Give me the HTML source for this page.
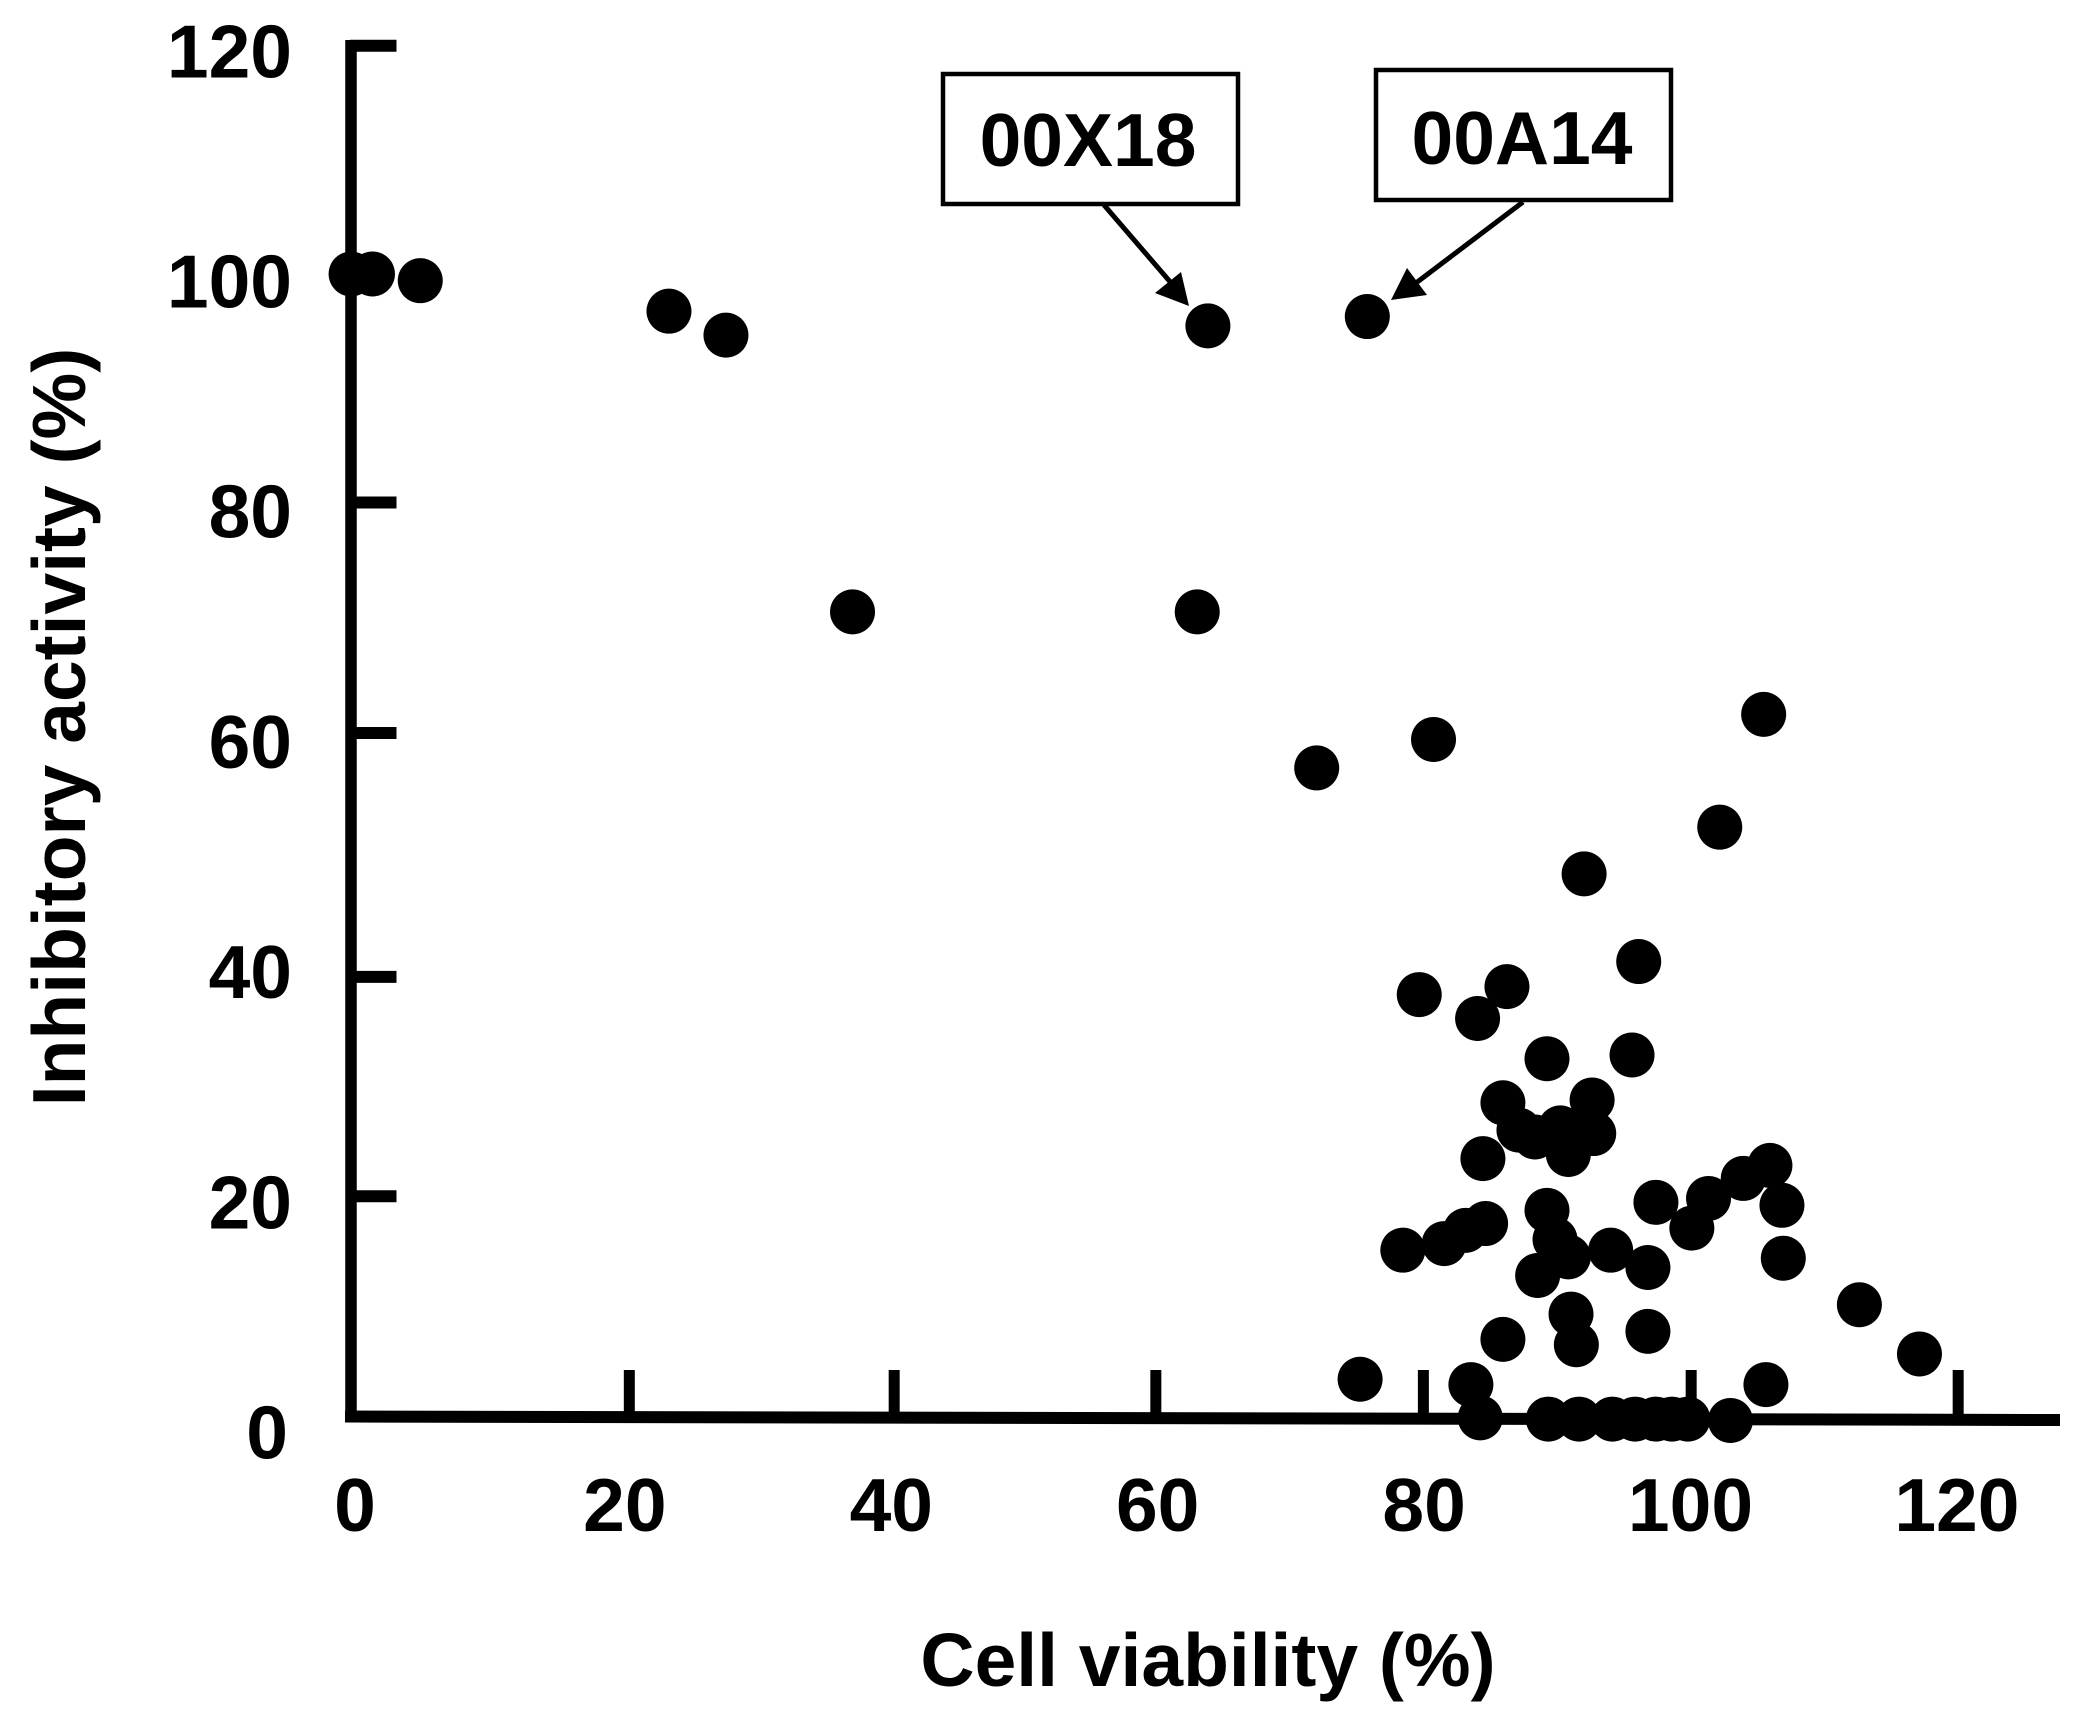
<!DOCTYPE html>
<html>
<head>
<meta charset="utf-8">
<title>Inhibitory activity vs cell viability</title>
<style>
html,body{margin:0;padding:0;background:#fff;}
svg{display:block;}
text{font-family:"Liberation Sans",Arial,sans-serif;font-weight:bold;fill:#000;}
</style>
</head>
<body>
<svg id="chart" xmlns="http://www.w3.org/2000/svg" width="2086" height="1728" viewBox="0 0 2086 1728">
  <rect x="0" y="0" width="2086" height="1728" fill="#fff"/>
  <g id="axes"></g>
  <g id="points"></g>
  <text x="1208" y="1686" font-size="75" text-anchor="middle">Cell viability (%)</text>
  <text transform="translate(85,727) rotate(-90)" font-size="75" text-anchor="middle">Inhibitory activity (%)</text>
  <g>
    <rect x="943" y="74" width="295" height="130" fill="#fff" stroke="#000" stroke-width="4.5"/>
    <text x="1088" y="166" font-size="75" text-anchor="middle">00X18</text>
    <line x1="1104" y1="205" x2="1172" y2="284" stroke="#000" stroke-width="5"/>
    <polygon points="1181,272 1155,293 1189,306" fill="#000"/>
  </g>
  <g>
    <rect x="1376" y="70" width="295" height="130" fill="#fff" stroke="#000" stroke-width="4.5"/>
    <text x="1522" y="164" font-size="75" text-anchor="middle">00A14</text>
    <line x1="1523" y1="202" x2="1412" y2="286" stroke="#000" stroke-width="5"/>
    <polygon points="1407,268 1427,295 1391,300" fill="#000"/>
  </g>
</svg>
<script>
// Tick labels
const xTickLabels = [0, 20, 40, 60, 80, 100, 120];
const yTickLabels = [0, 20, 40, 60, 80, 100, 120];
// Tick marks as drawn on the source figure (the hand-set axis is slightly uneven)
const xTickMarks = [20.96, 40.8, 60.4, 80.44, 100.5, 120.5];
const yTickMarks = [19.0, 38.25, 59.67, 79.9, 120];
// Series values
const cellViability = [0.12,1.72,5.3,23.93,28.2,37.68,63.5,64.3,76.24,72.45,81.2,105.93,102.64,92.48,96.57,80.13,86.7,84.5,89.7,96.07,86.4,93.08,87.6,88.8,90.7,93.2,91.3,84.9,106.4,104.4,101.8,100.55,97.86,107.3,89.7,90.3,91.3,94.47,78.9,82.0,83.6,85.1,107.4,97.26,89.0,113.1,117.6,91.5,91.9,97.26,86.4,75.7,84.0,106.1,84.7,89.8,92.1,94.6,96.3,97.86,99.06,100.25,103.44];
const inhibitoryActivity = [99.97,99.97,99.38,96.7,94.6,70.3,70.3,95.41,96.23,56.6,59.1,61.3,51.4,47.3,39.6,36.7,37.4,34.6,31.07,31.4,27.2,27.45,24.8,24.2,25.0,24.5,22.66,22.3,21.7,20.56,18.8,16.2,18.46,18.2,17.76,15.2,13.67,14.26,14.26,14.84,16.0,16.6,13.55,12.74,12.04,9.47,5.15,8.65,5.96,7.13,6.43,2.93,2.46,2.46,-0.46,-0.57,-0.57,-0.57,-0.57,-0.57,-0.57,-0.57,-0.69];

const NS = 'http://www.w3.org/2000/svg';
function xScale(v){ return 349.5 + v * 13.35; }
function yScale(v){ return 1412.6 - v * 11.39; }
function xLabelPos(v){ return v === 0 ? 355 : 358.5 + v * 13.32; }
function yLabelBaseline(v){ return 1458.5 - v * 11.51; }

const axes = document.getElementById('axes');
const pts = document.getElementById('points');

function line(x1, y1, x2, y2, w){
  const l = document.createElementNS(NS, 'line');
  l.setAttribute('x1', x1);
  l.setAttribute('y1', y1);
  l.setAttribute('x2', x2);
  l.setAttribute('y2', y2);
  l.setAttribute('stroke', '#000');
  l.setAttribute('stroke-width', w);
  axes.appendChild(l);
  return l;
}
function label(x, y, str, anchor){
  const t = document.createElementNS(NS, 'text');
  t.setAttribute('x', x);
  t.setAttribute('y', y);
  t.setAttribute('font-size', '75');
  t.setAttribute('text-anchor', anchor);
  t.textContent = str;
  axes.appendChild(t);
  return t;
}

const yAxisLine = line(351, 40, 351, 1422, 11.5);



const xAxisLine = line(345, 1416.5, 2060, 1420, 12);



xTickMarks.forEach(function(v){
  const t = line(xScale(v), 1370, xScale(v), 1418, 11);
  
  
});
yTickMarks.forEach(function(v){
  const t = line(350, yScale(v), 396.5, yScale(v), 12);
  
  
});
xTickLabels.forEach(function(v){
  const t = label(xLabelPos(v), 1531, String(v), 'middle');
  
  
});
yTickLabels.forEach(function(v){
  const t = label(v === 0 ? 288 : 292, yLabelBaseline(v), String(v), 'end');
  
  
});
cellViability.forEach(function(v, i){
  const c = document.createElementNS(NS, 'circle');
  c.setAttribute('cx', xScale(v));
  c.setAttribute('cy', yScale(inhibitoryActivity[i]));
  c.setAttribute('r', 22.5);
  c.setAttribute('fill', '#000');
  
  
  pts.appendChild(c);
});
</script>
</body>
</html>
